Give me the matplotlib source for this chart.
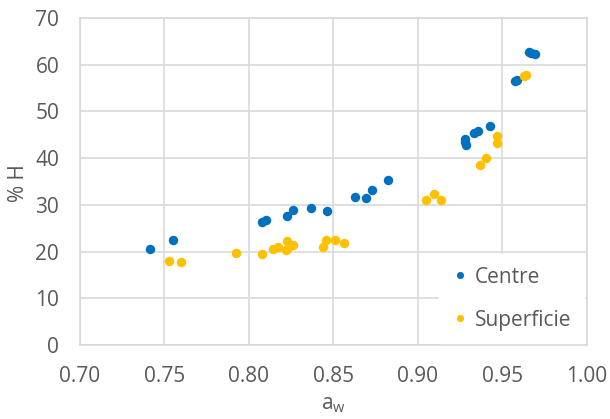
import matplotlib.pyplot as plt

# Centre (blue) points
centre_aw = [0.7416, 0.7549, 0.808, 0.810, 0.8223, 0.8263, 0.8365, 0.846,
             0.8625, 0.869, 0.8729, 0.8824, 0.9276, 0.9286, 0.928, 0.933,
             0.9355, 0.9426, 0.9577, 0.9588, 0.9659, 0.967, 0.9692]
centre_h = [20.5, 22.4, 26.4, 26.7, 27.7, 28.8, 29.4, 28.6,
            31.6, 31.4, 33.2, 35.4, 43.4, 42.9, 44.0, 45.4,
            45.8, 46.8, 56.5, 56.8, 62.7, 62.5, 62.4]

# Superficie (orange) points
surf_aw = [0.7528, 0.7595, 0.7926, 0.8078, 0.8144, 0.8173, 0.8221, 0.8225,
           0.8242, 0.8261, 0.844, 0.8454, 0.8512, 0.856, 0.9049, 0.9095,
           0.9139, 0.9367, 0.9403, 0.9467, 0.9467, 0.9625, 0.9642]
surf_h = [17.9, 17.7, 19.7, 19.5, 20.5, 21.0, 20.4, 22.3,
          21.3, 21.5, 21.0, 22.4, 22.4, 21.9, 31.1, 32.4,
          31.1, 38.6, 40.1, 44.8, 43.3, 57.5, 57.8]

xticks = [0.70, 0.75, 0.80, 0.85, 0.90, 0.95, 1.00]
yticks = [0, 10, 20, 30, 40, 50, 60, 70]

plt.rcParams['font.family'] = ['Open Sans', 'DejaVu Sans']
txt = '#595959'
grid = '#d9d9d9'

fig = plt.figure(figsize=(6.1, 4.19), dpi=100)
ax = fig.add_axes([0.1311, 0.1766, 0.8311, 0.7804])

ax.plot(centre_aw, centre_h, 'o', color='#0070C0', markersize=6.8,
        markeredgewidth=0, label='Centre', zorder=3)
ax.plot(surf_aw, surf_h, 'o', color='#FFC000', markersize=6.8,
        markeredgewidth=0, label='Superficie', zorder=3)

ax.set_xlim(0.70, 1.00)
ax.set_ylim(0, 70)
ax.set_xticks(xticks)
ax.set_xticklabels([f'{v:.2f}' for v in xticks])
ax.set_yticks(yticks)
ax.grid(True, color=grid, linewidth=1.2, zorder=0)
ax.set_axisbelow(True)
for s in ax.spines.values():
    s.set_color(grid)
    s.set_linewidth(1.2)
ax.tick_params(length=0, labelsize=15, labelcolor=txt)
ax.tick_params(axis='x', pad=15)
ax.tick_params(axis='y', pad=15)

# axis titles placed in figure pixels
fig.text(18 / 610, 1 - 183 / 419, '% H', rotation=90, ha='center',
         va='center', fontsize=15, color=txt)
fig.text(333 / 610, 1 - 404 / 419, 'a$_\\mathregular{w}$', ha='center',
         va='center', fontsize=15, color=txt)

leg = ax.legend(loc='lower right', bbox_to_anchor=(0.994, 0.006),
                borderaxespad=0, fontsize=15, labelspacing=1.05,
                handlelength=0.8, handletextpad=0.3, borderpad=0.6,
                markerscale=0.75, fancybox=False, framealpha=1,
                edgecolor='white')
for t in leg.get_texts():
    t.set_color(txt)

fig.savefig('out.png', dpi=100)
